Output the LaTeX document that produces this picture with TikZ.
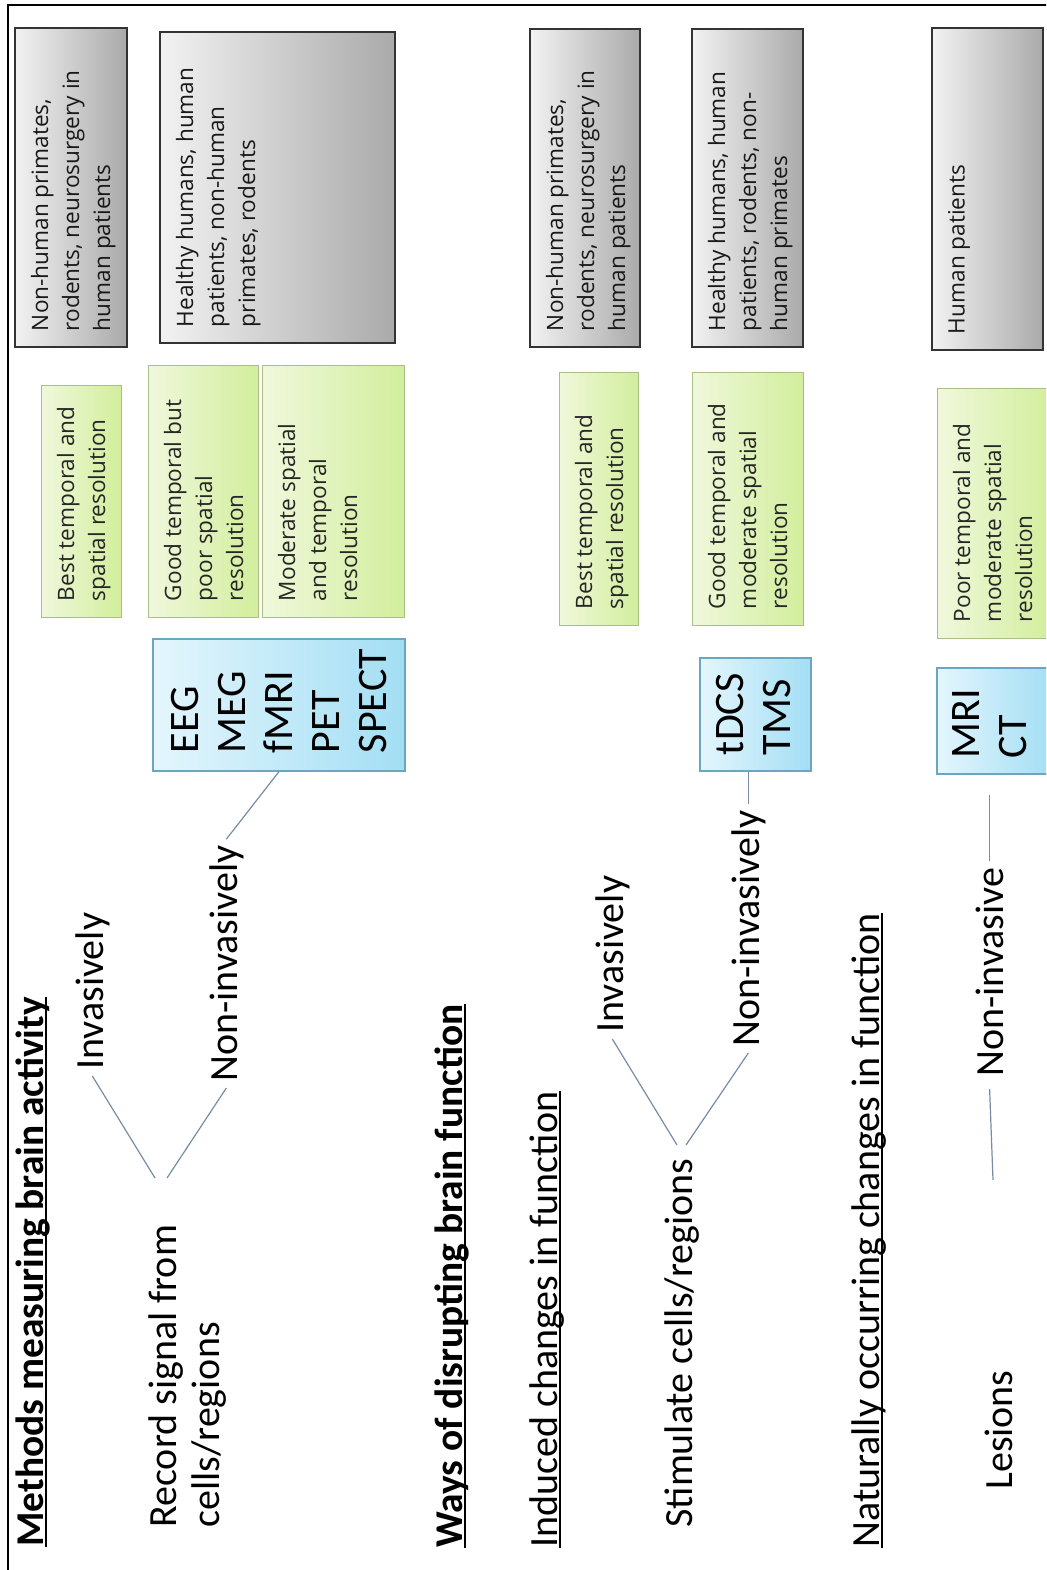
\documentclass[tikz,border=0pt]{standalone}
\usepackage{fontspec}
\setmainfont{Carlito}
\newfontfamily\boxfont{Open Sans}
\usetikzlibrary{calc}
\definecolor{connC}{RGB}{120,140,165}
\definecolor{grayL}{HTML}{F2F2F2}
\definecolor{grayD}{HTML}{AAAAAA}
\definecolor{greenL}{HTML}{F0F8DC}
\definecolor{greenD}{HTML}{D2EE9C}
\definecolor{greenB}{HTML}{A9BF84}
\definecolor{blueL}{HTML}{E4F6FD}
\definecolor{blueD}{HTML}{A3DEF4}
\definecolor{blueB}{HTML}{6AA6BF}
\tikzset{
 graybox/.style={draw=black!80, line width=0.7pt, left color=grayL, right color=grayD,
   font=\boxfont\fontsize{11.3}{15.5}\selectfont, text=black!90},
 greenbox/.style={draw=greenB, line width=0.5pt, left color=greenL, right color=greenD,
   font=\boxfont\fontsize{11.3}{15.5}\selectfont, text=black!85},
 bluebox/.style={draw=blueB, line width=0.6pt, left color=blueL, right color=blueD,
   font=\fontsize{21}{23.5}\selectfont},
 lab/.style={rotate=90, anchor=base west, inner sep=3pt, font=\fontsize{20}{21.5}\selectfont},
 ttl/.style={lab, font=\bfseries\fontsize{19.7}{21.5}\selectfont},
 conn/.style={draw=connC, line width=0.6pt},
 uline/.style={draw=black, line width=0.9pt, shorten <=3pt, shorten >=3pt},
}
% #1 name, #2 style, #3 cx, #4 cy (px), #5 length (pt), #6 thickness (pt), #7 pad (pt), #8 text
\newcommand\mkbox[8]{%
 \node[#2, rotate=90, inner sep=#7pt, minimum width=#5pt, minimum height=#6pt] (#1) at (#3,#4)
 {\parbox[c][\dimexpr #6pt-#7pt-#7pt\relax][t]{\dimexpr #5pt-#7pt-#7pt\relax}{\raggedright #8}};}
\begin{document}
\begin{tikzpicture}[x=0.5pt,y=-0.5pt]
\useasboundingbox (0,0) rectangle (1046,1570);
\clip (0,0) rectangle (1046,1570);
\fill[white] (0,0) rectangle (1046,1570);
\draw[line width=1.2pt] (8,5) rectangle (1060,1580);

% gray boxes
\mkbox{g1}{graybox}{71}{187.5}{159.5}{56}{8}{Non-human primates,\\rodents, neurosurgery in\\human patients}
\mkbox{g2}{graybox}{277.5}{187.5}{155.5}{117.5}{8}{Healthy humans, human\\patients, non-human\\primates, rodents}
\mkbox{g3}{graybox}{585}{188}{159}{55}{8}{Non-human primates,\\rodents, neurosurgery in\\human patients}
\mkbox{g4}{graybox}{747.5}{188}{159}{55.5}{8}{Healthy humans, human\\patients, rodents, non-\\human primates}
\mkbox{g5}{graybox}{987.5}{189}{161}{55.5}{8}{Human patients}

% green boxes
\mkbox{r1}{greenbox}{81}{501}{116}{40}{8}{Best temporal and\\spatial resolution}
\mkbox{r2}{greenbox}{203}{491}{126}{55}{8}{Good temporal but\\poor spatial\\resolution}
\mkbox{r3}{greenbox}{333}{491}{126}{71}{8}{Moderate spatial\\and temporal\\resolution}
\mkbox{r4}{greenbox}{598.5}{498.5}{126.5}{39.5}{8}{Best temporal and\\spatial resolution}
\mkbox{r5}{greenbox}{747.5}{498.5}{126.5}{55.5}{8}{Good temporal and\\moderate spatial\\resolution}
\mkbox{r6}{greenbox}{994.5}{513}{125}{57.5}{8}{Poor temporal and\\moderate spatial\\resolution}

% blue boxes
\mkbox{bb1}{bluebox}{279}{705}{66}{126}{9}{EEG\\MEG\\fMRI\\PET\\SPECT}
\mkbox{bb2}{bluebox}{755.5}{714.5}{56.5}{55.5}{8}{tDCS\\TMS}
\mkbox{bb3}{bluebox}{994.5}{721}{53}{57.5}{8}{MRI\\CT}

% section 1
\node[ttl] (t1) at (43,1553) {Methods measuring brain activity};
\draw[uline] ([xshift=1.5pt]t1.base west) -- ([xshift=1.5pt]t1.base east);
\node[lab, anchor=north west, align=left] (rec) at (142,1534) {Record signal from\\cells/regions};
\node[lab] (inv1) at (103,1076) {Invasively};
\node[lab] (ni1) at (237,1088) {Non-invasively};
\coordinate (ra) at (155,1178);
\coordinate (rb) at (167,1178);
\draw[conn] (ra) -- (inv1.west);
\draw[conn] (rb) -- (ni1.west);
\draw[conn] (ni1.east) -- (bb1.west);

% section 2
\node[ttl] (t2) at (462,1554) {Ways of disrupting brain function};
\draw[uline] ([xshift=1.5pt]t2.base west) -- ([xshift=1.5pt]t2.base east);
\node[lab] (ind) at (557,1554) {Induced changes in function};
\draw[uline] ([xshift=1.5pt]ind.base west) -- ([xshift=1.5pt]ind.base east);
\node[lab] (stim) at (692,1534) {Stimulate cells/regions};
\node[lab] (inv2) at (623,1039) {Invasively};
\node[lab] (ni2) at (759,1053) {Non-invasively};
\coordinate (sa) at (677,1145);
\coordinate (sb) at (686,1145);
\draw[conn] (sa) -- (inv2.west);
\draw[conn] (sb) -- (ni2.west);
\draw[conn] (ni2.east) -- (ni2.east |- bb2.west);

% section 3
\node[lab] (t3) at (879,1554) {Naturally occurring changes in function};
\draw[uline] ([xshift=1.5pt]t3.base west) -- ([xshift=1.5pt]t3.base east);
\node[lab] (les) at (1012,1496) {Lesions};
\node[lab] (ni3) at (1003,1083) {Non-invasive};
\coordinate (la) at (993,1180);
\draw[conn, shorten >=3pt] (la) -- (ni3.west);
\draw[conn, shorten >=10pt] (ni3.east) -- (ni3.east |- bb3.west);
\end{tikzpicture}
\end{document}
